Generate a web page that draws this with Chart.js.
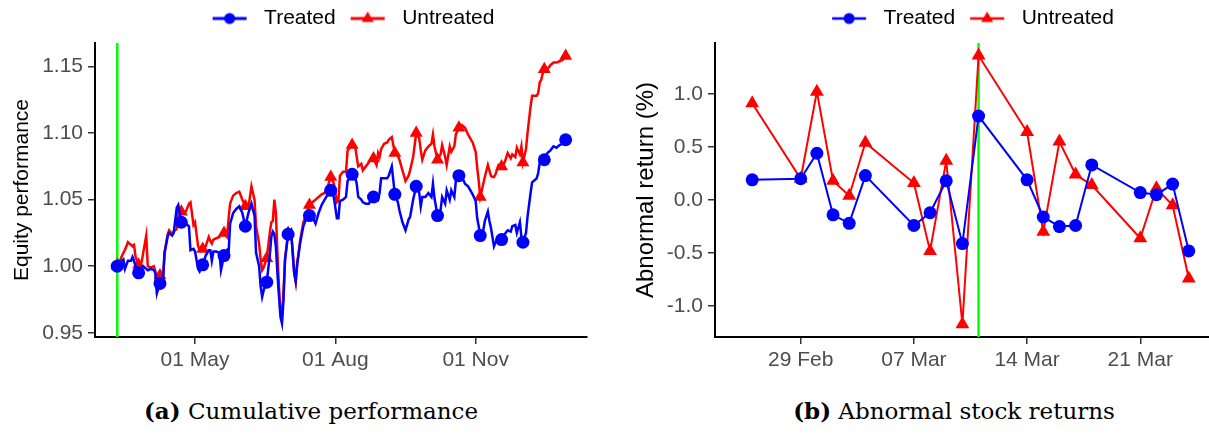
<!DOCTYPE html>
<html>
<head>
<meta charset="utf-8">
<title>Cumulative performance and abnormal stock returns</title>
<script src="https://cdn.jsdelivr.net/npm/chart.js@4.4.1/dist/chart.umd.min.js"></script>
<style>
  body { margin: 0; background: #fff; width: 1209px; height: 433px; overflow: hidden; position: relative; }
  canvas { position: absolute; top: 0; }
  #perf-chart { left: 0; }
  #ar-chart { left: 624px; }
  .caption { position: absolute; top: 397px; line-height: 28px; font-family: 'DejaVu Serif', serif; font-size: 23px; color: #000; text-align: center; white-space: nowrap; }
</style>
</head>
<body>
<canvas id="perf-chart" width="700" height="380"></canvas>
<canvas id="ar-chart" width="691" height="380"></canvas>
<div class="caption" style="left: 111px; width: 400px;"><b>(a)</b> Cumulative performance</div>
<div class="caption" style="left: 754px; width: 400px;"><b>(b)</b> Abnormal stock returns</div>
<script>
// Panel (a): cumulative equity performance, x = days relative to 01 May
const perfDays = [
  -55, -53, -51, -49, -47, -46, -44, -42, -41, -40, -39, -37, -35, -34, -32, -31, -29, -27, -26, -25,
  -23, -21, -20, -18, -17, -15, -14, -12, -11, -9, -7, -6, -4, -3, -1, 0, 2, 3, 5, 7,
  9, 10, 11, 12, 14, 16, 17, 19, 21, 22, 23, 25, 27, 29, 31, 33, 35, 37, 39, 40,
  42, 43, 44, 45, 47, 49, 50, 51, 52, 53, 54, 55, 56, 57, 58, 59, 61, 63, 64, 65,
  66, 67, 69, 71, 73, 75, 77, 79, 81, 83, 85, 87, 89, 91, 93, 94, 95, 97, 99, 100,
  103, 105, 106, 107, 109, 110, 112, 114, 115, 117, 119, 120, 121, 122, 124, 126, 127, 129, 131, 133,
  134, 136, 137, 138, 140, 141, 143, 145, 147, 148, 149, 151, 153, 155, 156, 157, 159, 161, 162, 164,
  165, 167, 168, 170, 171, 173, 175, 177, 179, 181, 182, 184, 185, 186, 187, 189, 190, 192, 193, 194,
  195, 196, 197, 199, 201, 203, 205, 207, 208, 210, 211, 213, 214, 215, 217, 218, 220, 221, 223, 224,
  225, 226, 227, 228, 229, 231, 233, 235, 237, 239, 241, 243
];
const perfTreated = [
  0.999, 1.000, 1.000, 1.003, 1.005, 0.998, 1.004, 1.004, 1.007, 1.004, 1.000, 0.995, 0.999, 1.000, 0.998, 0.997, 0.998, 0.997, 0.995, 0.980,
  0.987, 0.990, 1.010, 1.022, 1.025, 1.023, 1.025, 1.044, 1.046, 1.033, 1.033, 1.032, 1.030, 1.012, 1.013, 1.011, 0.998, 0.996, 1.001, 1.008,
  1.012, 1.012, 1.004, 1.011, 1.011, 1.010, 0.997, 1.008, 1.012, 1.010, 1.032, 1.040, 1.043, 1.045, 1.040, 1.030, 1.040, 1.047, 1.038, 1.010,
  1.000, 0.985, 0.977, 0.982, 0.988, 1.008, 1.022, 1.026, 1.024, 1.015, 0.995, 0.978, 0.962, 0.957, 0.975, 1.005, 1.024, 1.027, 1.010, 0.995,
  0.989, 1.002, 1.018, 1.030, 1.036, 1.038, 1.037, 1.032, 1.040, 1.046, 1.050, 1.054, 1.057, 1.052, 1.036, 1.036, 1.049, 1.050, 1.052, 1.064,
  1.069, 1.067, 1.062, 1.052, 1.050, 1.048, 1.047, 1.047, 1.049, 1.052, 1.051, 1.050, 1.055, 1.066, 1.066, 1.066, 1.068, 1.075, 1.054, 1.048,
  1.042, 1.033, 1.030, 1.027, 1.035, 1.037, 1.050, 1.060, 1.055, 1.045, 1.052, 1.052, 1.055, 1.052, 1.062, 1.051, 1.038, 1.042, 1.052, 1.047,
  1.057, 1.050, 1.057, 1.052, 1.064, 1.068, 1.067, 1.062, 1.060, 1.056, 1.054, 1.049, 1.036, 1.030, 1.023, 1.027, 1.034, 1.041, 1.034, 1.029,
  1.022, 1.015, 1.018, 1.022, 1.020, 1.024, 1.027, 1.026, 1.030, 1.031, 1.025, 1.033, 1.022, 1.018, 1.025, 1.037, 1.055, 1.063, 1.065, 1.066,
  1.070, 1.078, 1.078, 1.079, 1.080, 1.085, 1.087, 1.090, 1.089, 1.091, 1.092, 1.095
];
const perfUntreated = [
  0.998, 0.999, 1.001, 1.005, 1.010, 1.012, 1.018, 1.016, 1.015, 1.016, 1.007, 1.001, 1.003, 1.010, 1.023, 1.000, 0.999, 1.000, 0.996, 0.981,
  0.993, 0.990, 1.010, 1.024, 1.027, 1.024, 1.026, 1.028, 1.042, 1.041, 1.040, 1.041, 1.047, 1.048, 1.031, 1.033, 1.015, 1.012, 1.013, 1.015,
  1.022, 1.019, 1.017, 1.020, 1.021, 1.022, 1.024, 1.025, 1.022, 1.036, 1.047, 1.053, 1.055, 1.056, 1.050, 1.045, 1.044, 1.060, 1.050, 1.030,
  1.017, 1.005, 0.997, 0.999, 1.006, 1.025, 1.033, 1.034, 1.050, 1.040, 1.010, 0.985, 0.966, 0.961, 0.980, 1.005, 1.025, 1.024, 1.012, 0.995,
  0.988, 1.002, 1.020, 1.033, 1.039, 1.046, 1.048, 1.050, 1.052, 1.054, 1.055, 1.060, 1.067, 1.062, 1.048, 1.049, 1.068, 1.071, 1.071, 1.087,
  1.091, 1.090, 1.082, 1.075, 1.077, 1.072, 1.075, 1.078, 1.080, 1.081, 1.076, 1.085, 1.082, 1.088, 1.092, 1.093, 1.095, 1.097, 1.085, 1.083,
  1.080, 1.072, 1.068, 1.064, 1.068, 1.072, 1.082, 1.100, 1.096, 1.087, 1.080, 1.087, 1.090, 1.092, 1.099, 1.090, 1.080, 1.084, 1.091, 1.082,
  1.076, 1.090, 1.086, 1.090, 1.099, 1.104, 1.106, 1.104, 1.099, 1.095, 1.093, 1.086, 1.074, 1.064, 1.052, 1.062, 1.067, 1.076, 1.072, 1.068,
  1.067, 1.067, 1.069, 1.076, 1.075, 1.078, 1.085, 1.081, 1.084, 1.082, 1.089, 1.084, 1.090, 1.078, 1.088, 1.100, 1.120, 1.128, 1.128, 1.128,
  1.130, 1.138, 1.140, 1.145, 1.148, 1.148, 1.151, 1.153, 1.153, 1.154, 1.155, 1.158
];
const perfMarkerDays = [-51, -37, -23, -9, 5, 19, 33, 47, 61, 75, 89, 103, 117, 131, 145, 159, 173, 187, 201, 215, 229, 243];
const perfTickDays = [0, 92, 184];
const perfTickLabels = ['01 May', '01 Aug', '01 Nov'];
const perfYTicks = [0.95, 1.00, 1.05, 1.10, 1.15];
const perfEventDay = -51;

// Panel (b): abnormal returns in %, x = days relative to 29 Feb
const arDays = [-3, 0, 1, 2, 3, 4, 7, 8, 9, 10, 11, 14, 15, 16, 17, 18, 21, 22, 23, 24];
const arTreated = [0.19, 0.20, 0.44, -0.14, -0.22, 0.23, -0.24, -0.12, 0.18, -0.41, 0.79, 0.19, -0.16, -0.25, -0.24, 0.33, 0.07, 0.05, 0.15, -0.48];
const arUntreated = [0.91, 0.20, 1.02, 0.18, 0.04, 0.54, 0.16, -0.48, 0.37, -1.17, 1.36, 0.64, -0.30, 0.55, 0.24, 0.14, -0.36, 0.11, -0.05, -0.74];
const arTickDays = [0, 7, 14, 21];
const arTickLabels = ['29 Feb', '07 Mar', '14 Mar', '21 Mar'];
const arYTicks = [-1.0, -0.5, 0.0, 0.5, 1.0];
const arEventDay = 11;

Chart.defaults.font.family = "'Liberation Sans', Arial, sans-serif";
Chart.defaults.font.size = 21;

// small line + marker picture used as legend key
function legendIcon(style, color, radius, width) {
  const c = document.createElement('canvas');
  c.width = 36;
  c.height = 20;
  const g = c.getContext('2d');
  g.strokeStyle = color;
  g.fillStyle = color;
  g.lineWidth = width + 0.5;
  g.beginPath();
  g.moveTo(1, 10);
  g.lineTo(35, 10);
  g.stroke();
  g.beginPath();
  if (style === 'circle') {
    g.arc(18, 10, radius, 0, Math.PI * 2);
  } else {
    g.moveTo(18, 10 - radius);
    g.lineTo(18 + radius * 0.866, 10 + radius / 2);
    g.lineTo(18 - radius * 0.866, 10 + radius / 2);
    g.closePath();
  }
  g.fill();
  return c;
}

const eventLine = {
  id: 'eventLine',
  beforeDatasetsDraw(chart, args, opts) {
    const x = chart.scales.x.getPixelForValue(opts.day);
    const { top, bottom } = chart.chartArea;
    const ctx = chart.ctx;
    ctx.save();
    ctx.strokeStyle = '#00ff00';
    ctx.lineWidth = 2.5;
    ctx.beginPath();
    ctx.moveTo(x, top);
    ctx.lineTo(x, bottom);
    ctx.stroke();
    ctx.restore();
  }
};

function buildChart(canvasId, cfg) {
  function series(label, values, color, style, radius) {
    return {
      label: label,
      data: cfg.days.map((d, i) => ({ x: d, y: values[i] })),
      borderColor: color,
      backgroundColor: color,
      borderWidth: cfg.lineWidth,
      pointStyle: style,
      pointRadius: ctx => (!cfg.markerDays || (ctx.raw && cfg.markerDays.includes(ctx.raw.x))) ? radius : 0,
      pointHoverRadius: 0,
      pointBorderWidth: 0,
      pointBackgroundColor: color,
      tension: 0,
      legendIcon: legendIcon(style, color, style === 'circle' ? 5.5 : 7, cfg.lineWidth)
    };
  }

  const hidden = { display: true, ticks: { display: false }, grid: { display: false }, border: { display: false } };

  return new Chart(document.getElementById(canvasId), {
    type: 'line',
    data: {
      datasets: [
        series('Treated', cfg.treated, '#0000ff', 'circle', 6.5),
        series('Untreated', cfg.untreated, '#ff0000', 'triangle', cfg.triRadius)
      ]
    },
    plugins: [eventLine],
    options: {
      responsive: false,
      animation: false,
      events: [],
      layout: { padding: 0 },
      plugins: {
        tooltip: { enabled: false },
        eventLine: { day: cfg.eventDay },
        legend: {
          position: 'top',
          labels: {
            usePointStyle: true,
            pointStyleWidth: 48,
            padding: 8,
            color: '#000',
            generateLabels: chart => Chart.defaults.plugins.legend.labels.generateLabels(chart).map(item => {
              item.pointStyle = chart.data.datasets[item.datasetIndex].legendIcon;
              return item;
            })
          }
        }
      },
      scales: {
        x: {
          type: 'linear',
          min: cfg.xMin,
          max: cfg.xMax,
          afterBuildTicks: s => { s.ticks = cfg.xTicks.map(v => ({ value: v })); },
          afterFit: s => { s.height = 43; },
          ticks: { callback: (v, i) => cfg.xLabels[i], color: '#4d4d4d', padding: 4, maxRotation: 0, autoSkip: false },
          grid: { drawOnChartArea: false, tickLength: 7, color: '#333', lineWidth: 1.5 },
          border: { color: '#000', width: 2 }
        },
        y: {
          type: 'linear',
          min: cfg.yMin,
          max: cfg.yMax,
          afterBuildTicks: s => { s.ticks = cfg.yTicks.map(v => ({ value: v })); },
          afterFit: s => { s.width = cfg.yWidth; },
          ticks: { callback: v => v.toFixed(cfg.decimals), color: '#4d4d4d', padding: 5, autoSkip: false },
          grid: { drawOnChartArea: false, tickLength: 7, color: '#333', lineWidth: 1.5 },
          border: { color: '#000', width: 2 },
          title: { display: true, text: cfg.yTitle, color: '#000', font: { size: cfg.titleSize }, padding: { top: cfg.titlePad, bottom: 0 } }
        },
        gapTop: Object.assign({ type: 'linear', position: 'top', afterFit: s => { s.height = 4; } }, hidden),
        gapRight: Object.assign({ type: 'linear', position: 'right', afterFit: s => { s.width = cfg.rightGap; } }, hidden)
      }
    }
  });
}

buildChart('perf-chart', {
  days: perfDays,
  treated: perfTreated,
  untreated: perfUntreated,
  markerDays: perfMarkerDays,
  xTicks: perfTickDays,
  xLabels: perfTickLabels,
  yTicks: perfYTicks,
  eventDay: perfEventDay,
  xMin: -65.6, xMax: 257,
  yMin: 0.9468, yMax: 1.1677,
  decimals: 2,
  yTitle: 'Equity performance',
  titleSize: 21,
  titlePad: 10,
  yWidth: 95,
  rightGap: 113,
  lineWidth: 2.5,
  triRadius: 7.5
});

buildChart('ar-chart', {
  days: arDays,
  treated: arTreated,
  untreated: arUntreated,
  markerDays: null,
  xTicks: arTickDays,
  xLabels: arTickLabels,
  yTicks: arYTicks,
  eventDay: arEventDay,
  xMin: -5.3, xMax: 25.25,
  yMin: -1.290, yMax: 1.478,
  decimals: 1,
  yTitle: 'Abnormal return (%)',
  titleSize: 24,
  titlePad: 8,
  yWidth: 91,
  rightGap: 106,
  lineWidth: 2,
  triRadius: 8
});
</script>
</body>
</html>
